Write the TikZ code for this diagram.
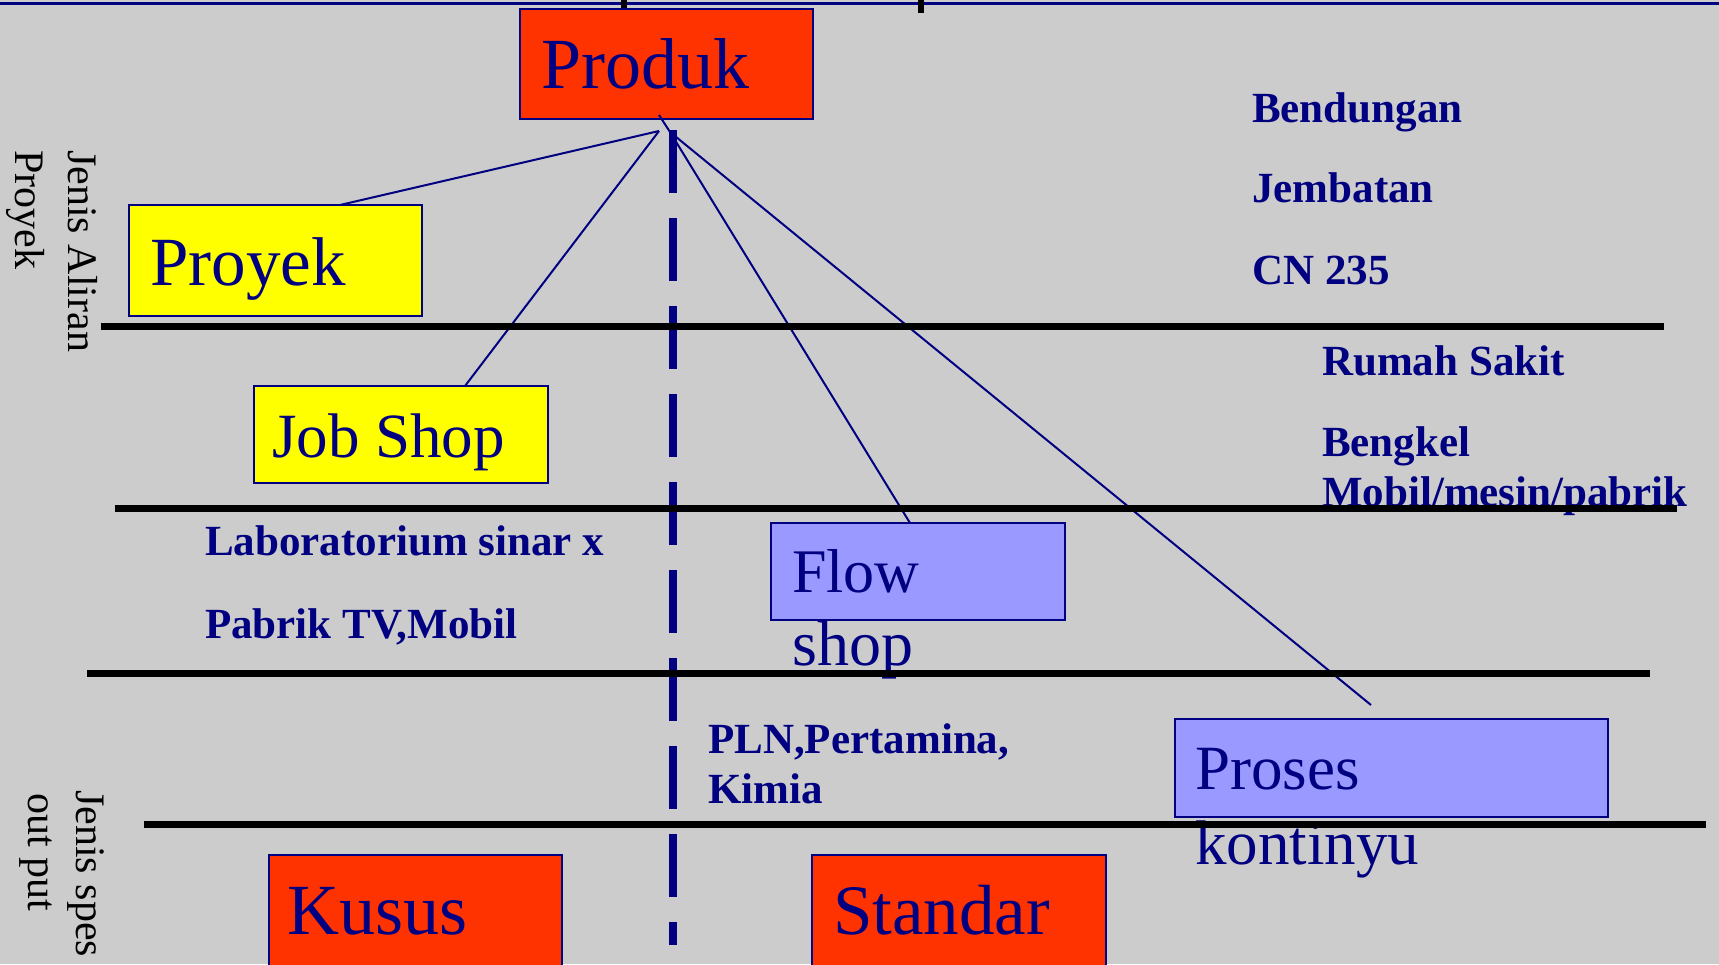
\documentclass[tikz,border=0pt]{standalone}
\usepackage{fontspec}
\setmainfont{Liberation Serif}
\usetikzlibrary{calc}

\definecolor{bgGray}{HTML}{CCCCCC}
\definecolor{navy}{HTML}{000080}
\definecolor{boxRed}{HTML}{FF3300}
\definecolor{boxYellow}{HTML}{FFFF00}
\definecolor{boxLav}{HTML}{9999FF}

\tikzset{
  panel/.style={draw=navy, line width=2pt, inner sep=0pt, outer sep=0pt, anchor=north west},
  bigtext/.style={text=navy, font=\fontsize{#1}{#1}\selectfont, anchor=base west, inner sep=0pt},
  bigtext/.default=66,
  tag/.style={text=navy, font=\bfseries\fontsize{43}{50}\selectfont, anchor=base west, inner sep=0pt},
  sidetext/.style={text=black, font=\fontsize{42}{50}\selectfont, anchor=base west, inner sep=0pt, rotate=-90},
  divider/.style={black, line width=7pt},
  link/.style={navy, line width=2pt},
}

\begin{document}
\begin{tikzpicture}[x=1pt,y=1pt]
  \useasboundingbox (0,0) rectangle (1719,-964);
  \fill[bgGray] (0,0) rectangle (1719,-964);
  \clip (0,0) rectangle (1719,-964);

  % top rule and the two marks hanging from it
  \draw[navy, line width=3pt] (0,-3) -- (1719,-3);
  \fill[black] (621,0) rectangle (627,-13);
  \fill[black] (918,0) rectangle (924,-13);

  % boxes
  \node[panel, fill=boxRed,    minimum width=293pt, minimum height=110pt] (produk)  at (520,-9)   {};
  \node[panel, fill=boxYellow, minimum width=293pt, minimum height=111pt] (proyek)  at (129,-205) {};
  \node[panel, fill=boxYellow, minimum width=294pt, minimum height=97pt]  (jobshop) at (254,-386) {};
  \node[panel, fill=boxLav,    minimum width=294pt, minimum height=97pt]  (flow)    at (771,-523) {};
  \node[panel, fill=boxLav,    minimum width=433pt, minimum height=98pt]  (proses)  at (1175,-719) {};
  \node[panel, fill=boxRed,    minimum width=293pt, minimum height=140pt] (kusus)   at (269,-855) {};
  \node[panel, fill=boxRed,    minimum width=294pt, minimum height=140pt] (standar) at (812,-855) {};

  % box captions
  \node[bigtext=72] (tProduk)   at (541,-88)   {Produk};
  \node[bigtext=69] (tProyek)   at (150,-285)  {Proyek};
  \node[bigtext=63] (tJob)      at (272,-457)  {Job Shop};
  \node[bigtext=62] (tFlow)     at (792,-592)  {Flow};
  \node[bigtext=64] (tShop)     at (792,-665)  {shop};
  \node[bigtext=63] (tProses)   at (1195,-789) {Proses};
  \node[bigtext=63] (tKontinyu) at (1195,-864) {kontinyu};
  \node[bigtext=72] (tKusus)    at (287,-934)  {Kusus};
  \node[bigtext=71] (tStandar)  at (833,-934)  {Standar};

  % examples
  \node[tag] (eBendungan) at (1252,-122) {Bendungan};
  \node[tag] (eJembatan)  at (1252,-202) {Jembatan};
  \node[tag] (eCN)        at (1252,-284) {CN 235};
  \node[tag] (eRS)        at (1322,-375) {Rumah Sakit};
  \node[tag] (eBengkel)   at (1322,-456) {Bengkel};
  \node[tag] (eMobil)     at (1322,-506) {Mobil/mesin/pabrik};
  \node[tag] (eLab)       at (205,-555)  {Laboratorium sinar x};
  \node[tag] (ePabrik)    at (205,-638)  {Pabrik TV,Mobil};
  \node[tag] (ePLN)       at (708,-753)  {PLN,Pertamina,};
  \node[tag] (eKimia)     at (708,-803)  {Kimia};

  % axis captions
  \node[sidetext] (sideA1) at (68,-150) {Jenis Aliran};
  \node[sidetext] (sideA2) at (15,-150) {Proyek};
  \node[sidetext] (sideB1) at (76,-790) {Jenis spes};
  \node[sidetext] (sideB2) at (28,-793) {out put};

  % connectors fanning out of Produk
  \coordinate (stemTop) at ($(produk.south west)+(139,4)$);
  \coordinate (hubL) at (659,-131);
  \coordinate (hubR) at (670,-132);
  \coordinate (prosesTip) at (1371,-705);
  \draw[link] (stemTop) -- (hubR);
  \draw[link] (hubL) -- ($(proyek.north west)+(211,0)$);
  \draw[link] (hubL) -- ($(jobshop.north west)+(211,0)$);
  \draw[link] (hubR) -- ($(flow.north west)+(139,0)$);
  \draw[link] (hubR) -- (prosesTip);

  % dashed divider between the two output types
  \draw[navy, line width=8pt, dash pattern=on 63pt off 25pt] (673,-130) -- (673,-945);

  % horizontal band separators
  \draw[divider] (101,-326) -- (1664,-326);
  \draw[divider] (115,-508) -- (1677,-508);
  \draw[divider] (87,-673)  -- (1650,-673);
  \draw[divider] (144,-824) -- (1706,-824);
\end{tikzpicture}
\end{document}
